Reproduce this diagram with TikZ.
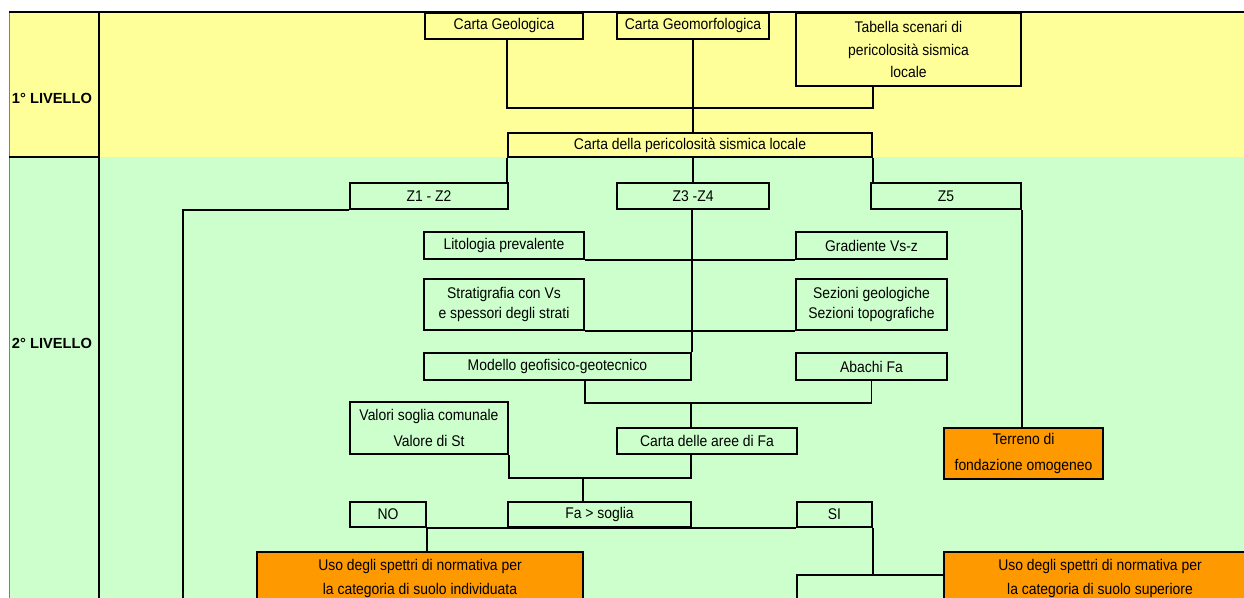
\documentclass[tikz,border=0pt]{standalone}
\usepackage{fontspec}
\setmainfont{Liberation Sans}
\newfontfamily\boxfont[FakeStretch=0.9]{Liberation Sans}
\usepackage{tikz}
\usetikzlibrary{positioning,calc}

\definecolor{lvlyellow}{HTML}{FFFF99}
\definecolor{lvlgreen}{HTML}{CCFFCC}
\definecolor{boxorange}{HTML}{FF9900}

\tikzset{
    box/.style={draw, line width=1.4pt, inner sep=0pt, align=center,
        font={\boxfont\fontsize{11.6}{17}\selectfont}},
    wh/.style 2 args={minimum width=#1*0.75pt, minimum height=#2*0.75pt},
    lsk/.style={font={\boxfont\fontsize{11.6}{#1}\selectfont}},
    outcome/.style={box, fill=boxorange},
    lvl/.style={font={\fontsize{11}{13}\selectfont\bfseries}},
    link/.style={line width=0.9pt},
}

\begin{document}
\begin{tikzpicture}[x=0.75pt, y=-0.75pt]
    \clip (0,0) rectangle (1244,598);

    % Bands
    \fill[white] (0,0) rectangle (1244,598);
    \fill[lvlyellow] (9,12) rectangle (1244,157);
    \fill[lvlgreen] (9,157) rectangle (1244,598);
    \draw[gray, line width=0.6pt] (9,12) -- (9,598);
    \draw[line width=1pt] (9,12) -- (1244,12);
    \draw[line width=1.8pt] (9,12) -- (99,12);
    \draw[line width=1.8pt] (9,157) -- (99,157);
    \draw[line width=1.2pt] (99,12) -- (99,598);
    \node[lvl] (lvl1) at (52,98) {1° LIVELLO};
    \node[lvl] (lvl2) at (52,343) {2° LIVELLO};

    % Level 1
    \node[box, wh={158}{26}] (geol) at (504,26) {Carta Geologica};
    \node[box, wh={152}{26}] (geomorf) at (693,26) {Carta Geomorfologica};
    \node[box, wh={225}{73}] (tabella) at (908.5,49.5)
        {Tabella scenari di\\pericolosità sismica\\locale};
    \node[box, wh={364}{24}] (pericol) at (690,145)
        {Carta della pericolosità sismica locale};

    % Level 2
    \node[box, wh={158}{26}] (z12) at (429,196) {Z1 - Z2};
    \node[box, wh={152}{26}] (z34) at (693,196) {Z3 -Z4};
    \node[box, wh={150}{26}] (z5) at (946,196) {Z5};
    \node[box, wh={160}{27}] (lito) at (504,245.5) {Litologia prevalente};
    \node[box, wh={151}{27}] (grad) at (871.5,245.5) {Gradiente Vs-z};
    \node[box, lsk=15.5, wh={160}{51}] (strat) at (504,304.5)
        {Stratigrafia con Vs\\e spessori degli strati};
    \node[box, lsk=15.5, wh={151}{51}] (sez) at (871.5,304.5)
        {Sezioni geologiche\\Sezioni topografiche};
    \node[box, wh={267}{27}] (modello) at (557.5,366.5) {Modello geofisico-geotecnico};
    \node[box, wh={151}{27}] (abachi) at (871.5,366.5) {Abachi Fa};
    \node[box, lsk=19.5, wh={158}{52}] (valori) at (429,428)
        {Valori soglia comunale\\Valore di St};
    \node[box, wh={180}{26}] (aree) at (707,441) {Carta delle aree di Fa};
    \node[outcome, lsk=19.5, wh={159}{51}] (terreno) at (1023.5,453.5)
        {Terreno di\\fondazione omogeneo};
    \node[box, wh={76}{25}] (no) at (388,514.5) {NO};
    \node[box, wh={183}{25}] (fasoglia) at (599.5,514.5) {Fa > soglia};
    \node[box, wh={75}{25}] (si) at (834.5,514.5) {SI};
    \node[outcome, lsk=18, wh={326}{52}] (uso1) at (420,578)
        {Uso degli spettri di normativa per\\la categoria di suolo individuata};
    \node[outcome, lsk=18, wh={312}{52}] (uso2) at (1100,578)
        {Uso degli spettri di normativa per\\la categoria di suolo superiore};

    % Links
    \coordinate (upjoin) at (691,108);
    \coordinate (fajoin) at (691,403);
    \coordinate (stjoin) at (583,478);
    \coordinate (sijoin) at (871,575);
    \coordinate (leftend) at (183,600);
    \coordinate (siend) at (797,600);

    \draw[link] (pericol.west |- geol.south) |- (upjoin) -| (pericol.east |- tabella.south);
    \draw[link] (geomorf.south) -- (geomorf.south |- pericol.north);
    \draw[link] (z34.north |- pericol.south) -- (z34.north);
    \draw[link] (pericol.south west) -- (pericol.south west |- z12.north);
    \draw[link] (pericol.south east) -- (pericol.south east |- z5.north);
    \draw[link] (z12.south west) -| (leftend);
    \draw[link] (z5.south east) -- (z5.south east |- terreno.north);
    \draw[link] (lito.south east) -- (grad.south west);
    \draw[link] (strat.south east) -- (sez.south west);
    \draw[link] (modello.north east |- z34.south) -- (modello.north east);
    \draw[link] (strat.east |- modello.south) |- (fajoin) -| (abachi.south);
    \draw[link] (fajoin) -- (fajoin |- aree.north);
    \draw[link] (fajoin |- aree.south) |- (stjoin) -| (valori.south east);
    \draw[link] (stjoin) -- (stjoin |- fasoglia.north);
    \draw[link] (no.south east) -- (si.south west);
    \draw[link] (no.south east) -- (no.south east |- uso1.north);
    \draw[link] (si.south east) -- (si.south east |- sijoin);
    \draw[link] (uso2.west |- sijoin) -| (siend);
\end{tikzpicture}
\end{document}
